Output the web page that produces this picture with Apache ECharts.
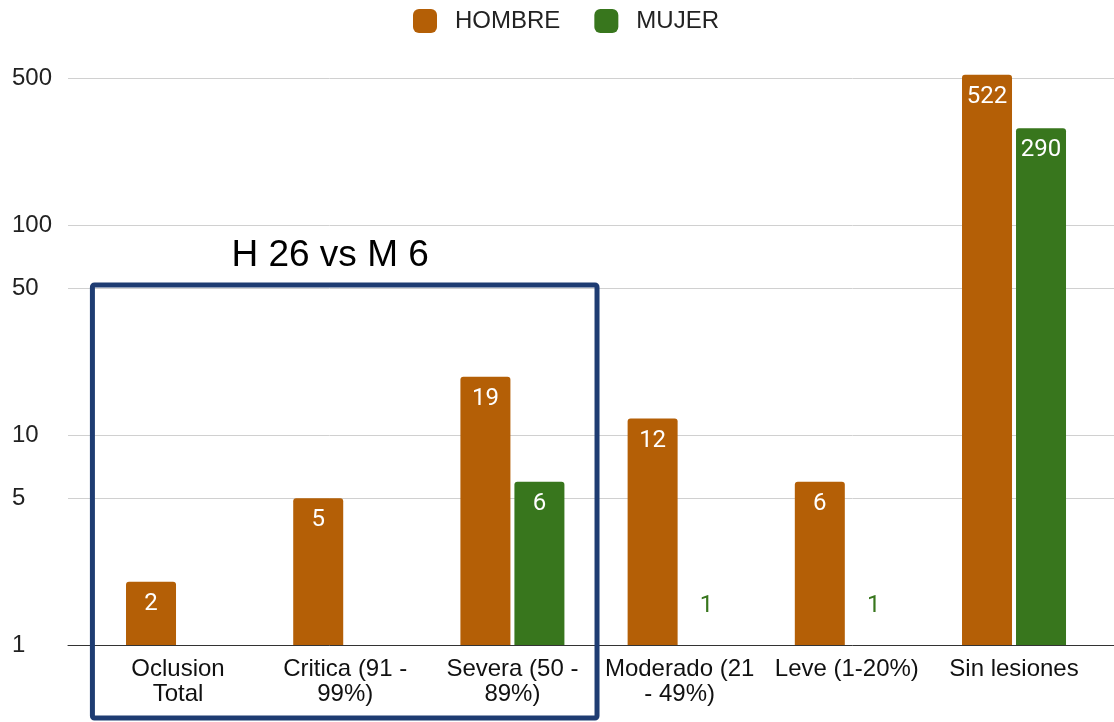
<!DOCTYPE html>
<html>
<head>
<meta charset="utf-8">
<script src="https://cdn.jsdelivr.net/npm/echarts@6/dist/echarts.min.js"></script>
<style>
  html, body { margin: 0; padding: 0; background: #fff; }
  #chart { width: 1114px; height: 722px; }
</style>
</head>
<body>
<div id="chart"></div>
<script>
var categories = ['Oclusion\nTotal', 'Critica (91 -\n99%)', 'Severa (50 -\n89%)', 'Moderado (21\n- 49%)', 'Leve (1-20%)', 'Sin lesiones'];
var hombre = [2, 5, 19, 12, 6, 522];
var mujer = [null, null, 6, 1, 1, 290];
var yTicks = [1, 5, 10, 50, 100, 500];
var noteText = 'H 26 vs M 6';

var ORANGE = '#b45f06', GREEN = '#38761d';
var catIdx = categories.map(function (c, i) { return i; });

// x is a value axis over the category index so the grid can run past the outer bars
// bars of value 1 have no height on a log axis, their label sits above them
function toItems(arr, color) {
    return arr.map(function (v, i) {
        if (v === null) return [i, '-'];
        if (v === 1) {
            return { value: [i, v], label: { position: 'top', distance: 27, color: color } };
        }
        return [i, v];
    });
}

var barLabel = {
    show: true,
    position: 'insideTop',
    distance: 10,
    color: '#fff',
    fontSize: 24,
    fontFamily: 'Roboto, sans-serif',
    formatter: function (p) { return p.value[1]; }
};

var chart = echarts.init(document.getElementById('chart'));
var option = {
    animation: false,
    textStyle: { fontFamily: 'Arial, "Liberation Sans", sans-serif' },
    legend: {
        top: 4,
        left: 408,
        itemWidth: 24,
        itemHeight: 24,
        itemGap: 34,
        icon: 'roundRect',
        textStyle: { fontSize: 24, color: '#222', padding: [0, 0, 0, 13] },
        data: ['HOMBRE', 'MUJER']
    },
    grid: { left: 68, right: 0, top: 62, bottom: 77 },
    xAxis: {
        type: 'value',
        min: -0.658,
        max: 5.598,
        splitLine: { show: false },
        axisLine: { show: true, onZero: false, lineStyle: { color: '#333', width: 1 } },
        axisTick: { show: false, customValues: catIdx },
        axisLabel: {
            customValues: catIdx,
            formatter: function (v) { return categories[Math.round(v)]; },
            fontSize: 24,
            color: '#111',
            lineHeight: 25,
            margin: 12
        }
    },
    yAxis: {
        type: 'log',
        logBase: 10,
        min: 1,
        max: 600,
        axisLine: { show: false },
        axisTick: { show: false, customValues: yTicks },
        splitLine: { lineStyle: { color: '#d0d0d0', width: 1 } },
        axisLabel: {
            customValues: yTicks,
            fontSize: 24,
            color: '#222',
            align: 'left',
            margin: 56
        }
    },
    series: [
        {
            name: 'HOMBRE',
            type: 'bar',
            barWidth: 50,
            barGap: '8%',
            clip: false,
            itemStyle: { color: ORANGE, borderRadius: [3, 3, 0, 0] },
            label: barLabel,
            data: toItems(hombre, ORANGE)
        },
        {
            name: 'MUJER',
            type: 'bar',
            barWidth: 50,
            clip: false,
            itemStyle: { color: GREEN, borderRadius: [3, 3, 0, 0] },
            label: barLabel,
            data: toItems(mujer, GREEN)
        }
    ]
};
chart.setOption(option);

// annotation box round the first three categories
var c0 = chart.convertToPixel({ xAxisIndex: 0 }, 0);
var c2 = chart.convertToPixel({ xAxisIndex: 0 }, 2);
var band = (c2 - c0) / 2;
var boxLeft = c0 - band / 2 - 2;
var boxRight = c2 + band / 2 + 1;
var boxTop = chart.convertToPixel({ yAxisIndex: 0 }, 52);
var boxBottom = 718;
chart.setOption({
    graphic: [
        {
            type: 'rect',
            shape: { x: boxLeft, y: boxTop, width: boxRight - boxLeft, height: boxBottom - boxTop, r: 2 },
            style: { fill: 'none', stroke: '#1e3c72', lineWidth: 5 },
            z: 100
        },
        {
            type: 'text',
            x: boxLeft + 139,
            y: boxTop - 29,
            style: {
                text: noteText,
                fontSize: 37,
                fontFamily: 'Arial, "Liberation Sans", sans-serif',
                fill: '#000',
                verticalAlign: 'middle'
            },
            z: 100
        }
    ]
});
</script>
</body>
</html>
